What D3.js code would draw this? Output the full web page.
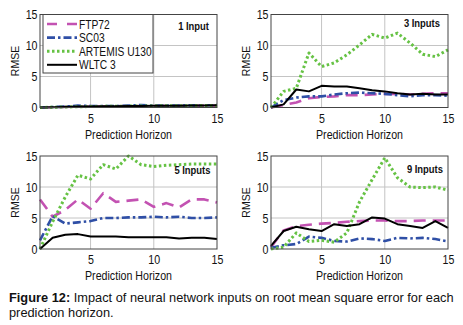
<!DOCTYPE html>
<html>
<head>
<meta charset="utf-8">
<script src="https://cdn.jsdelivr.net/npm/d3@7"></script>
<style>
  body { margin: 0; background: #fff; }
  svg { display: block; }
</style>
</head>
<body>
<svg width="463" height="325"></svg>
<script>
// x values (prediction horizon steps)
const horizon = [1, 2, 3, 4, 5, 6, 7, 8, 9, 10, 11, 12, 13, 14, 15];
const seriesNames = ["FTP72", "SC03", "ARTEMIS U130", "WLTC 3"];
const panelTitles = ["1 Input", "3 Inputs", "5 Inputs", "9 Inputs"];
const yTicks = [0, 5, 10, 15];
const xTicks = [5, 10, 15];

// 1 input
const in1_ftp72 = [0, 0.05, 0.1, 0.12, 0.15, 0.18, 0.2, 0.22, 0.25, 0.25, 0.28, 0.28, 0.3, 0.3, 0.3];
const in1_sc03 = [0, 0.08, 0.15, 0.3, 0.25, 0.25, 0.22, 0.3, 0.4, 0.3, 0.3, 0.32, 0.35, 0.35, 0.38];
const in1_artemis = [0, 0.04, 0.08, 0.12, 0.15, 0.18, 0.2, 0.22, 0.24, 0.26, 0.28, 0.29, 0.3, 0.32, 0.34];
const in1_wltc = [0, 0.05, 0.1, 0.15, 0.18, 0.2, 0.22, 0.24, 0.26, 0.28, 0.3, 0.3, 0.32, 0.33, 0.35];
// 3 inputs
const in3_ftp72 = [0, 0.4, 0.8, 1.5, 1.7, 1.8, 2.0, 2.0, 2.1, 2.2, 2.2, 2.1, 2.2, 2.3, 2.3];
const in3_sc03 = [0, 1.2, 1.6, 1.8, 1.8, 2.1, 2.3, 2.4, 2.3, 2.2, 2.0, 1.8, 2.0, 2.0, 1.9];
const in3_artemis = [0, 2.6, 3.1, 8.8, 6.6, 7.2, 8.5, 10.1, 11.8, 11.2, 12.0, 10.4, 8.6, 8.2, 9.3];
const in3_wltc = [0, 0.5, 2.9, 2.6, 3.5, 3.4, 3.4, 3.1, 2.8, 2.6, 2.3, 2.1, 2.2, 2.1, 2.1];
// 5 inputs
const in5_ftp72 = [8.0, 5.2, 6.3, 8.0, 6.5, 9.0, 7.6, 7.8, 8.0, 6.8, 7.4, 6.7, 8.0, 8.0, 7.5];
const in5_sc03 = [1.4, 5.3, 4.1, 4.3, 4.5, 5.0, 5.0, 5.1, 5.1, 5.2, 5.1, 5.2, 5.0, 5.0, 5.1];
const in5_artemis = [0, 4.4, 8.4, 11.9, 11.3, 13.6, 12.9, 15.0, 13.6, 13.3, 13.5, 13.6, 13.7, 13.7, 13.7];
const in5_wltc = [0, 1.8, 2.3, 2.4, 2.0, 2.0, 2.0, 1.9, 1.9, 1.9, 1.9, 1.7, 1.8, 1.8, 1.6];
// 9 inputs
const in9_ftp72 = [0.3, 3.0, 3.7, 3.9, 4.1, 4.2, 4.4, 4.5, 4.6, 4.6, 4.5, 4.5, 4.6, 4.6, 4.6];
const in9_sc03 = [0.2, 0.6, 0.8, 2.0, 1.8, 1.3, 1.2, 1.7, 1.6, 1.3, 1.8, 1.7, 1.8, 1.6, 1.2];
const in9_artemis = [0, 0.3, 2.6, 1.2, 1.4, 1.1, 2.6, 7.6, 11.2, 14.7, 11.5, 10.0, 9.9, 10.0, 9.5];
const in9_wltc = [0.5, 2.9, 3.6, 3.2, 2.9, 4.0, 3.7, 4.0, 5.1, 4.9, 4.0, 3.7, 3.4, 4.5, 3.4];

const panelData = [
  [in1_ftp72, in1_sc03, in1_artemis, in1_wltc],
  [in3_ftp72, in3_sc03, in3_artemis, in3_wltc],
  [in5_ftp72, in5_sc03, in5_artemis, in5_wltc],
  [in9_ftp72, in9_sc03, in9_artemis, in9_wltc],
];

// line styles per series
const styles = [
  { color: "#c352b2", width: 2.6, dash: "12,7" },
  { color: "#2f4fa6", width: 2.6, dash: "8,3,2.5,3" },
  { color: "#66c244", width: 3, dash: "2.5,2.5" },
  { color: "#000000", width: 2, dash: null },
];

// layout
const pw = 177, ph = 93;
const panels = [
  { left: 40, top: 14.5, tx: 8, ty: 15.5 },
  { left: 271, top: 14.5, tx: 8, ty: 12.5 },
  { left: 40, top: 156, tx: 6.5, ty: 18 },
  { left: 271, top: 156, tx: 5, ty: 17 },
];
const squeeze = 0.82; // the figure is horizontally compressed

const svg = d3.select("svg").attr("font-family", "'Liberation Sans', Arial, sans-serif");

const x = d3.scaleLinear().domain([1, 15]).range([0, pw]);
const y = d3.scaleLinear().domain([0, 15]).range([ph, 0]);

function label(g, px, py, s, size, anchor, weight) {
  return g
    .append("text")
    .attr("transform", `translate(${px},${py}) scale(${squeeze},1)`)
    .attr("text-anchor", anchor)
    .attr("font-size", size)
    .attr("font-weight", weight || "normal")
    .attr("fill", "#111")
    .text(s);
}

panels.forEach((p, pi) => {
  const g = svg.append("g").attr("transform", `translate(${p.left},${p.top})`);

  // grid
  g.append("g")
    .selectAll("line")
    .data([5, 10])
    .join("line")
    .attr("x1", (d) => x(d))
    .attr("x2", (d) => x(d))
    .attr("y1", 0)
    .attr("y2", ph)
    .attr("stroke", "#c4c4c4")
    .attr("stroke-width", 1);
  g.append("g")
    .selectAll("line")
    .data([5, 10])
    .join("line")
    .attr("x1", 0)
    .attr("x2", pw)
    .attr("y1", (d) => y(d))
    .attr("y2", (d) => y(d))
    .attr("stroke", "#c4c4c4")
    .attr("stroke-width", 1);

  // axes
  const yAxis = g.append("g").call(d3.axisLeft(y).tickValues(yTicks).tickSize(0).tickPadding(3));
  const xAxis = g
    .append("g")
    .attr("transform", `translate(0,${ph})`)
    .call(d3.axisBottom(x).tickValues(xTicks).tickSize(0).tickPadding(6));
  [yAxis, xAxis].forEach((a) => {
    a.select(".domain").remove();
    a.selectAll("text")
      .attr("font-size", 13)
      .attr("font-family", "'Liberation Sans', Arial, sans-serif")
      .attr("fill", "#111")
      .attr("transform", `scale(${squeeze},1)`);
  });

  // lines
  const line = d3
    .line()
    .x((d, i) => x(horizon[i]))
    .y((d) => y(d));
  panelData[pi].forEach((vals, si) => {
    const st = styles[si];
    g.append("path")
      .datum(vals)
      .attr("fill", "none")
      .attr("stroke", st.color)
      .attr("stroke-width", st.width)
      .attr("stroke-dasharray", st.dash)
      .attr("stroke-linejoin", "round")
      .attr("d", line);
  });

  // box
  g.append("rect")
    .attr("width", pw)
    .attr("height", ph)
    .attr("fill", "none")
    .attr("stroke", "#444")
    .attr("stroke-width", 1);

  // axis titles
  label(g, pw / 2, ph + 31, "Prediction Horizon", 13, "middle");
  g.append("text")
    .attr("transform", `translate(-21,${ph / 2}) rotate(-90)`)
    .attr("text-anchor", "middle")
    .attr("font-size", 10.5)
    .attr("fill", "#111")
    .text("RMSE");

  // panel title
  label(g, pw - p.tx, p.ty, panelTitles[pi], 11.5, "end", "bold");

  // legend in first panel
  if (pi === 0) {
    const lg = g.append("g").attr("transform", "translate(3,0)");
    lg.append("rect")
      .attr("width", 110)
      .attr("height", 58.5)
      .attr("fill", "#fff")
      .attr("stroke", "#444")
      .attr("stroke-width", 1);
    seriesNames.forEach((name, si) => {
      const st = styles[si];
      const ly = 9.5 + si * 13.6;
      lg.append("line")
        .attr("x1", 4)
        .attr("x2", 34)
        .attr("y1", ly)
        .attr("y2", ly)
        .attr("stroke", st.color)
        .attr("stroke-width", st.width)
        .attr("stroke-dasharray", si === 0 ? "10,10" : st.dash);
      label(lg, 36, ly + 4.5, name, 12.5, "start");
    });
  }
});

// caption
const cap = svg.append("text").attr("font-size", 12.8).attr("fill", "#111");
const l1 = cap.append("tspan").attr("x", 9).attr("y", 302);
l1.append("tspan").attr("font-weight", "bold").text("Figure 12:");
l1.append("tspan").text(" Impact of neural network inputs on root mean square error for each");
cap.append("tspan").attr("x", 9).attr("y", 317).text("prediction horizon.");
</script>
</body>
</html>
